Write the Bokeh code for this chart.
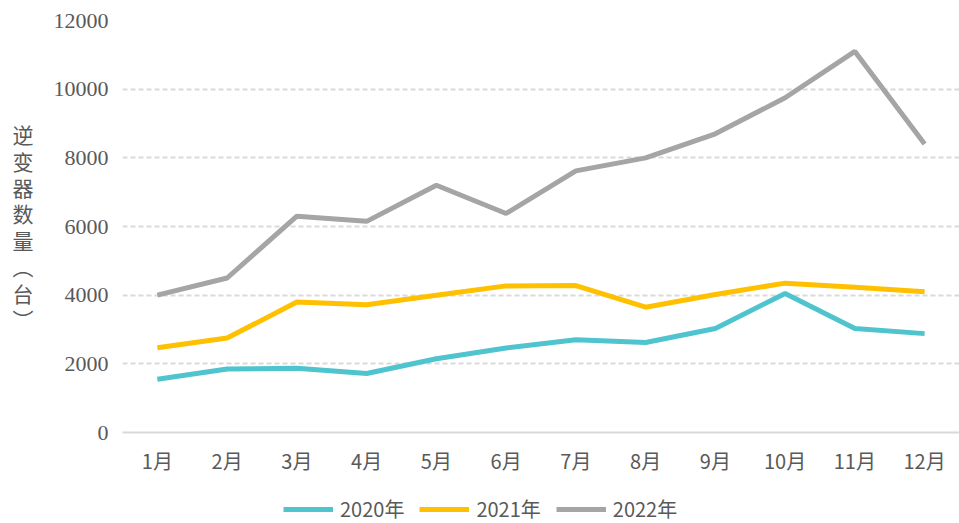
from bokeh.plotting import figure
from bokeh.layouts import column
from bokeh.models import Range1d, SingleIntervalTicker, Legend, LegendItem, FactorRange
from bokeh.embed import file_html
from bokeh.resources import INLINE

months = ["1月", "2月", "3月", "4月", "5月", "6月", "7月", "8月", "9月", "10月", "11月", "12月"]
s2020 = [1550, 1850, 1870, 1720, 2150, 2460, 2700, 2620, 3030, 4050, 3030, 2880]
s2021 = [2470, 2750, 3800, 3720, 4000, 4270, 4280, 3650, 4020, 4350, 4230, 4100]
s2022 = [4000, 4500, 6300, 6150, 7200, 6380, 7620, 8000, 8700, 9750, 11100, 8400]
series_names = ["2020年", "2021年", "2022年"]
colors = ["#4FC4CF", "#FFC000", "#A5A5A5"]
y_title = "逆\n变\n器\n数\n量\n︵\n台\n︶"
all_series = [s2020, s2021, s2022]

p = figure(width=959, height=482, x_range=FactorRange(*months, range_padding=0),
           y_range=Range1d(0, 12000), output_backend="svg", toolbar_location=None,
           min_border_left=122, min_border_right=0, min_border_top=20, min_border_bottom=50)
p.outline_line_color = None

for data, c in zip(all_series, colors):
    p.line(months, data, line_color=c, line_width=5)

p.yaxis.ticker = SingleIntervalTicker(interval=2000)
p.yaxis.axis_line_color = None
p.yaxis.major_tick_line_color = None
p.yaxis.minor_tick_line_color = None
p.yaxis.major_label_text_font = "Liberation Serif"
p.yaxis.major_label_text_font_size = "22px"
p.yaxis.major_label_text_color = "#595959"
p.yaxis.major_label_standoff = 8
p.yaxis.axis_label = y_title
p.yaxis.axis_label_orientation = "horizontal"
p.yaxis.axis_label_text_font = "Noto Sans CJK SC"
p.yaxis.axis_label_text_font_style = "normal"
p.yaxis.axis_label_text_font_size = "21px"
p.yaxis.axis_label_text_color = "#595959"
p.yaxis.axis_label_text_line_height = 0.88
p.yaxis.axis_label_standoff = 17

p.xaxis.axis_line_color = "#D9D9D9"
p.xaxis.axis_line_width = 2
p.xaxis.major_tick_line_color = None
p.xaxis.minor_tick_line_color = None
p.xaxis.major_label_text_font = "Noto Sans CJK SC"
p.xaxis.major_label_text_font_size = "20px"
p.xaxis.major_label_text_color = "#595959"
p.xaxis.major_label_standoff = 7

p.xgrid.grid_line_color = None
p.ygrid.grid_line_color = "#D9D9D9"
p.ygrid.grid_line_width = 2
p.ygrid.grid_line_dash = "5 3"

# legend strip below the chart
lg = figure(width=959, height=41, x_range=FactorRange(*months), y_range=Range1d(-20, -10),
            output_backend="svg", toolbar_location=None, min_border=0)
lg.outline_line_color = None
lg.axis.visible = False
lg.grid.grid_line_color = None
lrs = []
for data, c in zip(all_series, colors):
    lrs.append(lg.line(months, data, line_color=c, line_width=5))

legend = Legend(items=[LegendItem(label=n, renderers=[r]) for n, r in zip(series_names, lrs)],
                orientation="horizontal", location=(161, 0),
                label_text_font="Noto Sans CJK SC", label_text_font_size="20px",
                label_text_color="#595959", glyph_width=50, glyph_height=20,
                label_standoff=7, spacing=15, padding=0, margin=0,
                border_line_color=None, background_fill_alpha=0)
lg.add_layout(legend, "center")

open("out.html", "w").write(file_html(column(p, lg, spacing=0), INLINE))
